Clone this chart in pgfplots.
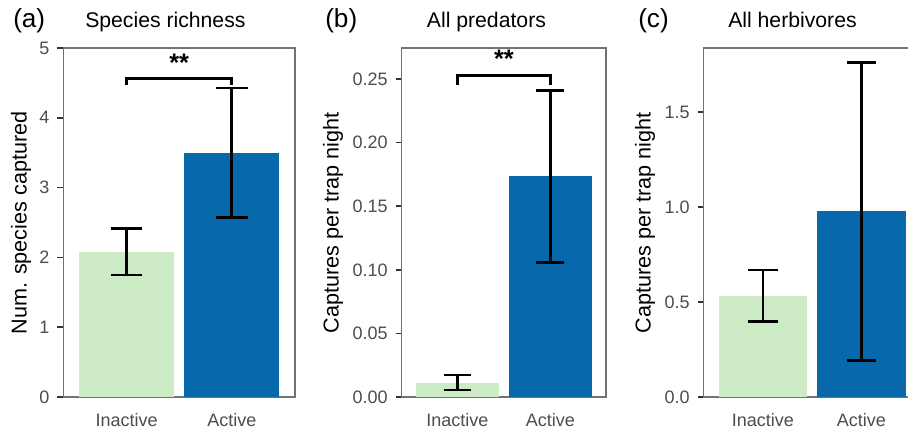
\documentclass[border=0pt]{standalone}
\usepackage{pgfplots}
\pgfplotsset{compat=1.18}
\usepackage{fontspec}
\setmainfont{Liberation Sans}

\definecolor{inact}{HTML}{CCEBC5}
\definecolor{act}{HTML}{0868AC}
\definecolor{frame}{HTML}{737373}
\definecolor{ticklab}{HTML}{4D4D4D}

\pgfplotsset{
  panel/.style={
    scale only axis, anchor=north west,
    height=261.75pt,
    xmin=0.4, xmax=2.6, ymin=0,
    xtick={1,2}, xticklabels={Inactive,Active},
    axis line style={frame, line width=1.1pt},
    tick align=outside, major tick length=4.5pt,
    xtick style={draw=none},
    ytick style={color=black!80, line width=1.1pt},
    ytick pos=left,
    tick label style={font=\fontsize{13.5}{16}\selectfont, text=ticklab},
    yticklabel style={xshift=-2.5pt},
    xticklabel style={yshift=-4.5pt},
    /pgf/number format/assume math mode=true,
    clip=false,
  },
  bar/.style={ybar, bar width=0.9, bar shift=0pt, draw=none, fill=#1},
  errb/.style={error bars/.cd, y dir=both, y explicit, error mark=|,
    error bar style={line width=2pt, black},
    error mark options={line width=2pt, black, mark size=#1}},
  brk/.style={sharp plot, black, line width=2pt, mark=none},
}
\newcommand\ttl{\fontsize{15.9}{18}\selectfont}
\newcommand\tag{\fontsize{19.6}{22}\selectfont}
\newcommand\ylab{\fontsize{16.2}{18}\selectfont}
\newcommand\stars{\fontsize{19}{20}\selectfont\bfseries}

\begin{document}
\begin{tikzpicture}
\path[use as bounding box] (0,0) rectangle (681pt,-323.25pt);

% (a) species richness
\begin{axis}[panel, at={(47.6pt,-36pt)}, width=173.6pt, ymax=5, ytick={0,1,2,3,4,5}]
\addplot[bar=inact, errb=11.8pt] coordinates {(1,2.08) +- (0,0.333)};
\addplot[bar=act, errb=11.8pt] coordinates {(2,3.50) +- (0,0.928)};
\addplot[brk] coordinates {(1,4.47) (1,4.56) (2,4.56) (2,4.47)};
\node[anchor=base, inner sep=0pt] at (axis cs:1.5,4.66) {\stars **};
\end{axis}

% (b) all predators
\begin{axis}[panel, at={(301.3pt,-36pt)}, width=153.2pt, ymax=0.2744,
  ytick={0,0.05,0.10,0.15,0.20,0.25},
  yticklabel style={/pgf/number format/.cd, fixed, fixed zerofill, precision=2}]
\addplot[bar=inact, errb=10.4pt] coordinates {(1,0.0113) +- (0,0.0059)};
\addplot[bar=act, errb=10.4pt] coordinates {(2,0.1734) +- (0,0.0675)};
\addplot[brk] coordinates {(1,0.2455) (1,0.2528) (2,0.2528) (2,0.2455)};
\node[anchor=base, inner sep=0pt] at (axis cs:1.5,0.2589) {\stars **};
\end{axis}

% (c) all herbivores
\begin{axis}[panel, at={(527.8pt,-36pt)}, width=162.6pt, ymax=1.837,
  ytick={0,0.5,1.0,1.5},
  yticklabel style={/pgf/number format/.cd, fixed, fixed zerofill, precision=1}]
\addplot[bar=inact, errb=11.1pt] coordinates {(1,0.533) +- (0,0.135)};
\addplot[bar=act, errb=11.1pt] coordinates {(2,0.977) +- (0,0.785)};
\end{axis}

% titles and axis labels
\node[anchor=base west, inner sep=0pt] at (9.75pt,-20.6pt) {\tag (a)};
\node[anchor=base west, inner sep=0pt] at (63.75pt,-20.5pt) {\ttl Species richness};
\node[anchor=base west, inner sep=0pt] at (243.75pt,-20.6pt) {\tag (b)};
\node[anchor=base west, inner sep=0pt] at (320pt,-20.5pt) {\ttl All predators};
\node[anchor=base west, inner sep=0pt] at (478.5pt,-20.6pt) {\tag (c)};
\node[anchor=base west, inner sep=0pt] at (546pt,-20.5pt) {\ttl All herbivores};

\node[rotate=90, inner sep=0pt] at (15.75pt,-167.25pt) {\ylab Num. species captured};
\node[rotate=90, inner sep=0pt] at (249.75pt,-167.25pt) {\ylab Captures per trap night};
\node[rotate=90, inner sep=0pt] at (483.75pt,-167.25pt) {\ylab Captures per trap night};
\end{tikzpicture}
\end{document}
